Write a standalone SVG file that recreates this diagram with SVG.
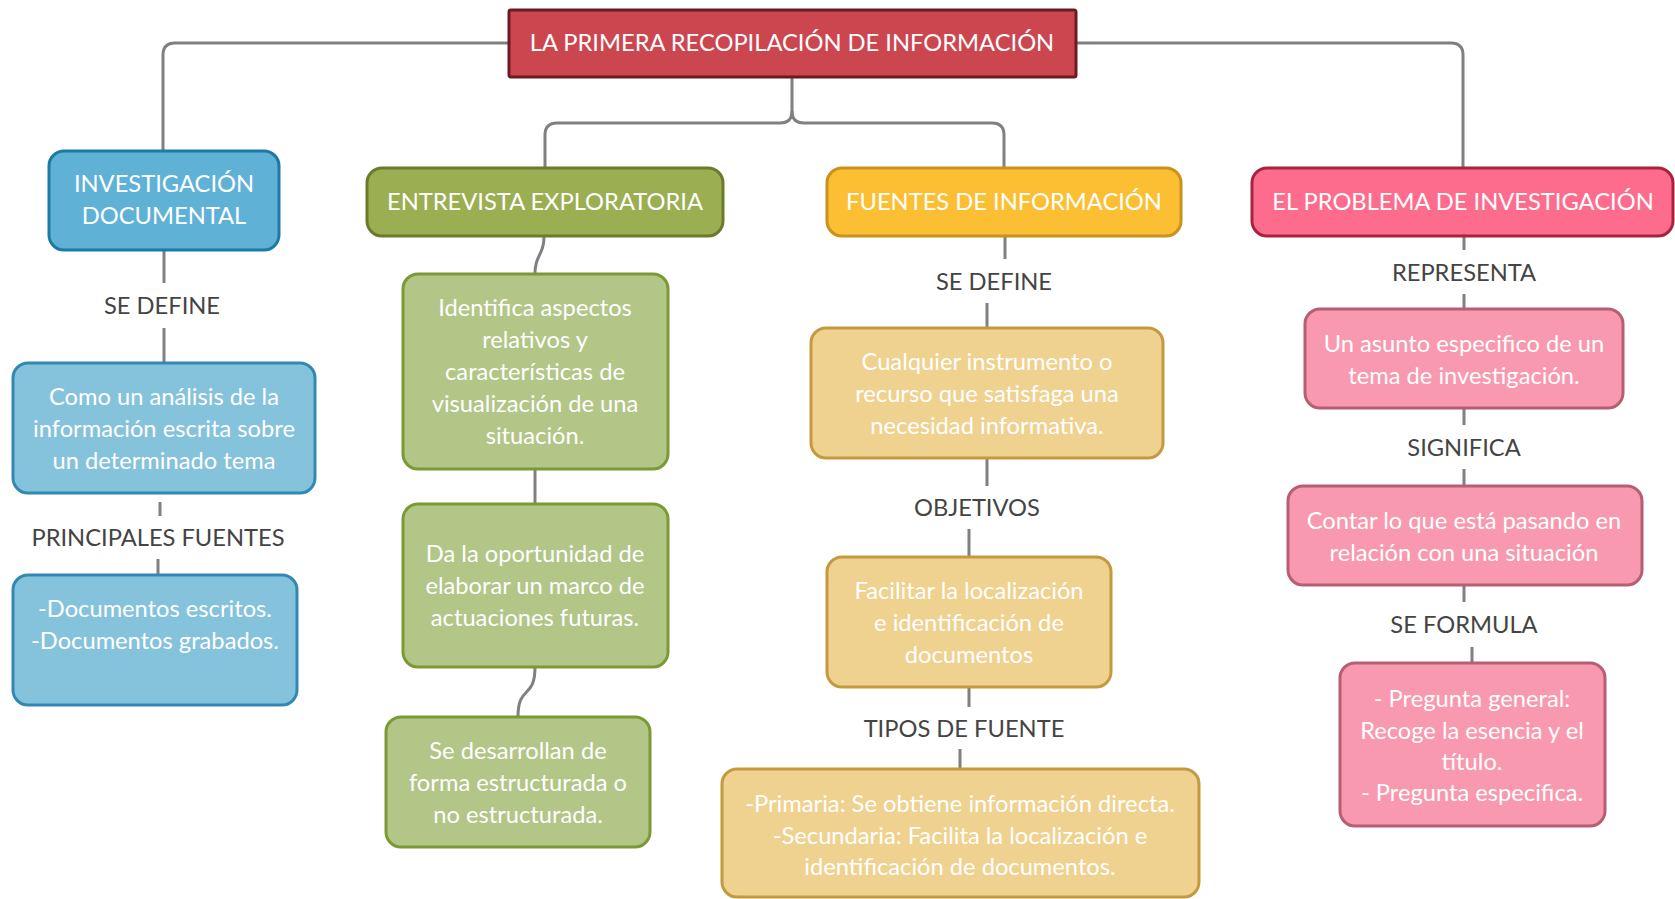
<svg xmlns="http://www.w3.org/2000/svg" width="1675" height="899" viewBox="0 0 1675 899">
<style>
text{font-family:Lato,"Open Sans","Liberation Sans",sans-serif;font-size:23.7px;text-anchor:middle;dominant-baseline:central}
.w{fill:#ffffff}
.l{fill:#444444}
.c{fill:none;stroke:#808080;stroke-width:3}
.b1{fill:#5fb1d6;stroke:#1b7aa6;stroke-width:3}
.b2{fill:#85c3dc;stroke:#3189b3;stroke-width:3}
.g1{fill:#9bae52;stroke:#6b7b2b;stroke-width:3}
.g2{fill:#b2c687;stroke:#7a9a35;stroke-width:3}
.y1{fill:#fcbe32;stroke:#c8921d;stroke-width:3}
.y2{fill:#efd290;stroke:#c49a3f;stroke-width:3}
.p1{fill:#fe6c8d;stroke:#a8243e;stroke-width:3}
.p2{fill:#f899af;stroke:#b65f74;stroke-width:3}
</style>
<rect width="1675" height="899" fill="#ffffff"/>
<g id="connectors">
<path class="c" d="M508,43 H175 Q163,43 163,55 V150"/>
<path class="c" d="M792,78 V111 Q792,123 780,123 H557 Q545,123 545,135 V168"/>
<path class="c" d="M792,111 Q792,123 804,123 H992 Q1004,123 1004,135 V168"/>
<path class="c" d="M1076,43 H1451 Q1463,43 1463,55 V168"/>
<path class="c" d="M164,250 V283 M164,328 V363"/>
<path class="c" d="M160,502 V516 M158,559 V575"/>
<path class="c" d="M544,237 C544,256 535,254 535,273"/>
<path class="c" d="M535,469 V504"/>
<path class="c" d="M535,667 C535,700 518,684 518,717"/>
<path class="c" d="M1005,236 V259 M987,303 V328"/>
<path class="c" d="M987,458 V486 M969,529 V557"/>
<path class="c" d="M969,688 V707 M960,749 V769"/>
<path class="c" d="M1464,236 V250 M1464,294 V309"/>
<path class="c" d="M1464,408 V425 M1464,469 V486"/>
<path class="c" d="M1464,585 V602 M1472,647 V663"/>
</g>
<g id="root">
<rect x="509" y="10" width="567" height="67" rx="2" fill="#cc4650" stroke="#6b1a22" stroke-width="3"/>
<text class="w" x="792" y="41.5">LA PRIMERA RECOPILACIÓN DE INFORMACIÓN</text>
</g>
<g id="investigacion">
<rect class="b1" x="49" y="151" width="230" height="99" rx="15"/>
<text class="w" x="164" y="183">INVESTIGACIÓN</text>
<text class="w" x="164" y="215">DOCUMENTAL</text>
</g>
<g id="lbl-se-define-1"><text class="l" x="162" y="305">SE DEFINE</text></g>
<g id="como">
<rect class="b2" x="13" y="363" width="302" height="130" rx="15"/>
<text class="w" x="164" y="396">Como un análisis de la</text>
<text class="w" x="164" y="428">información escrita sobre</text>
<text class="w" x="164" y="460">un determinado tema</text>
</g>
<g id="lbl-principales"><text class="l" x="158" y="537">PRINCIPALES FUENTES</text></g>
<g id="documentos">
<rect class="b2" x="13" y="575" width="284" height="130" rx="15"/>
<text class="w" x="155" y="608">-Documentos escritos.</text>
<text class="w" x="155" y="640">-Documentos grabados.</text>
</g>
<g id="entrevista">
<rect class="g1" x="367" y="168" width="356" height="68" rx="15"/>
<text class="w" x="545" y="200.5">ENTREVISTA EXPLORATORIA</text>
</g>
<g id="identifica">
<rect class="g2" x="403" y="274" width="265" height="195" rx="15"/>
<text class="w" x="535" y="307">Identifica aspectos</text>
<text class="w" x="535" y="339">relativos y</text>
<text class="w" x="535" y="371">características de</text>
<text class="w" x="535" y="403">visualización de una</text>
<text class="w" x="535" y="435">situación.</text>
</g>
<g id="dala">
<rect class="g2" x="403" y="504" width="265" height="163" rx="15"/>
<text class="w" x="535" y="553">Da la oportunidad de</text>
<text class="w" x="535" y="585">elaborar un marco de</text>
<text class="w" x="535" y="617">actuaciones futuras.</text>
</g>
<g id="sedesarrollan">
<rect class="g2" x="386" y="717" width="264" height="130" rx="15"/>
<text class="w" x="518" y="750">Se desarrollan de</text>
<text class="w" x="518" y="782">forma estructurada o</text>
<text class="w" x="518" y="814">no estructurada.</text>
</g>
<g id="fuentes">
<rect class="y1" x="827" y="168" width="354" height="68" rx="15"/>
<text class="w" x="1004" y="200.5">FUENTES DE INFORMACIÓN</text>
</g>
<g id="lbl-se-define-2"><text class="l" x="994" y="281">SE DEFINE</text></g>
<g id="cualquier">
<rect class="y2" x="811" y="328" width="352" height="130" rx="15"/>
<text class="w" x="987" y="361">Cualquier instrumento o</text>
<text class="w" x="987" y="393">recurso que satisfaga una</text>
<text class="w" x="987" y="425">necesidad informativa.</text>
</g>
<g id="lbl-objetivos"><text class="l" x="977" y="507">OBJETIVOS</text></g>
<g id="facilitar">
<rect class="y2" x="827" y="557" width="284" height="130" rx="15"/>
<text class="w" x="969" y="590">Facilitar la localización</text>
<text class="w" x="969" y="622">e identificación de</text>
<text class="w" x="969" y="654">documentos</text>
</g>
<g id="lbl-tipos"><text class="l" x="964" y="728">TIPOS DE FUENTE</text></g>
<g id="primaria">
<rect class="y2" x="722" y="769" width="477" height="128" rx="15"/>
<text class="w" x="960" y="803">-Primaria: Se obtiene información directa.</text>
<text class="w" x="960" y="835">-Secundaria: Facilita la localización e</text>
<text class="w" x="960" y="866">identificación de documentos.</text>
</g>
<g id="problema">
<rect class="p1" x="1252" y="168" width="421" height="68" rx="15"/>
<text class="w" x="1463" y="200.5">EL PROBLEMA DE INVESTIGACIÓN</text>
</g>
<g id="lbl-representa"><text class="l" x="1464" y="272">REPRESENTA</text></g>
<g id="unasunto">
<rect class="p2" x="1305" y="309" width="318" height="99" rx="15"/>
<text class="w" x="1464" y="343">Un asunto especifico de un</text>
<text class="w" x="1464" y="375">tema de investigación.</text>
</g>
<g id="lbl-significa"><text class="l" x="1464" y="447">SIGNIFICA</text></g>
<g id="contar">
<rect class="p2" x="1288" y="486" width="354" height="99" rx="15"/>
<text class="w" x="1464" y="520">Contar lo que está pasando en</text>
<text class="w" x="1464" y="552">relación con una situación</text>
</g>
<g id="lbl-se-formula"><text class="l" x="1464" y="624">SE FORMULA</text></g>
<g id="pregunta">
<rect class="p2" x="1340" y="663" width="265" height="163" rx="15"/>
<text class="w" x="1472" y="698">- Pregunta general:</text>
<text class="w" x="1472" y="730">Recoge la esencia y el</text>
<text class="w" x="1472" y="761">título.</text>
<text class="w" x="1472" y="792">- Pregunta especifica.</text>
</g>
</svg>
